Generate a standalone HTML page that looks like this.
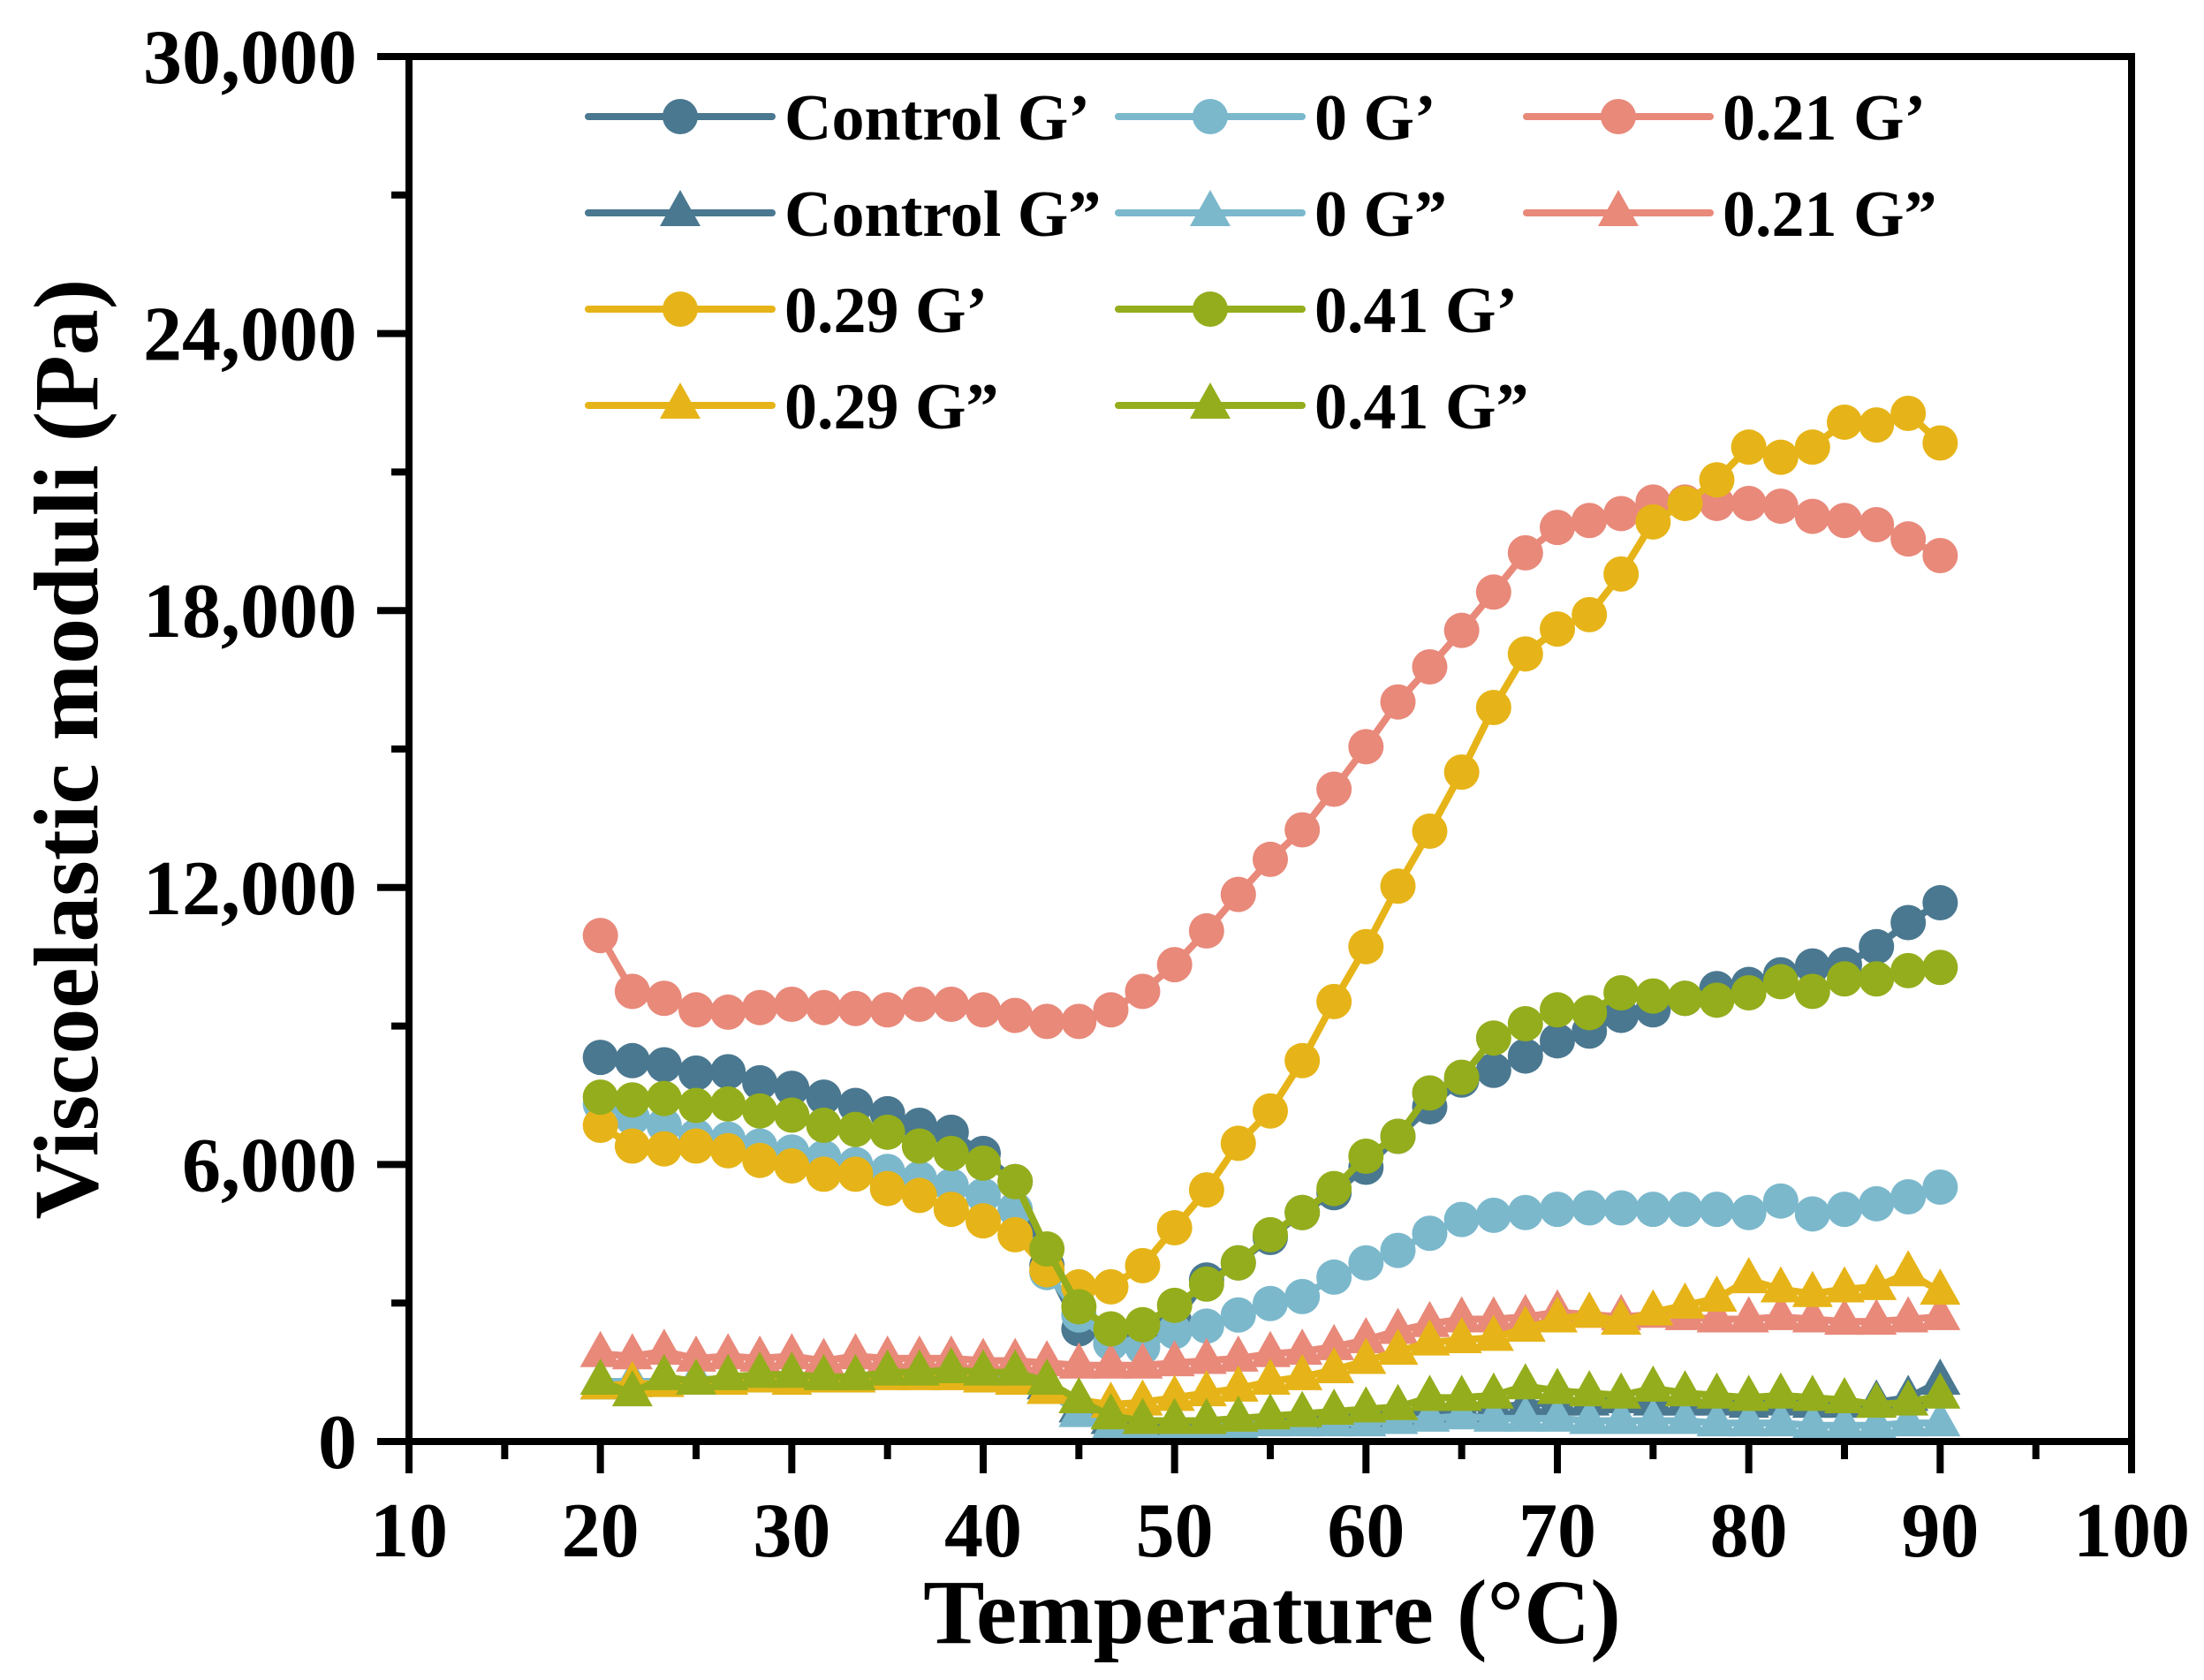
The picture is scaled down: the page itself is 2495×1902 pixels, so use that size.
<!DOCTYPE html>
<html><head><meta charset="utf-8"><style>
html,body{margin:0;padding:0;background:#fff;}
svg{display:block;font-family:"Liberation Serif","Times New Roman",serif;font-weight:bold;}
text{font-family:"Liberation Serif","Times New Roman",serif;font-weight:bold;}
</style></head><body>
<svg id="chart" width="2495" height="1902" viewBox="0 0 2495 1902" xmlns="http://www.w3.org/2000/svg">
<g id="series"></g>
<g id="axes"></g>
<g id="legend"></g>
<text x="1440" y="1860" font-size="104" text-anchor="middle">Temperature (°C)</text>
<text transform="translate(110,848) rotate(-90)" font-size="104" text-anchor="middle">Viscoelastic moduli (Pa)</text>
</svg>
<script>
const temps=[20,21.67,23.33,25,26.67,28.33,30,31.67,33.33,35,36.67,38.33,40,41.67,43.33,45,46.67,48.33,50,51.67,53.33,55,56.67,58.33,60,61.67,63.33,65,66.67,68.33,70,71.67,73.33,75,76.67,78.33,80,81.67,83.33,85,86.67,88.33,90];
const controlG1=[8320,8250,8160,7980,8010,7770,7650,7460,7280,7100,6850,6700,6240,5630,3810,2440,2130,2190,2590,3500,3870,4420,4960,5390,5940,6610,7250,7830,8040,8350,8680,8890,9230,9350,9600,9810,9900,10110,10300,10330,10720,11240,11670];
const controlG2=[1200,1250,1300,1300,1350,1350,1350,1400,1400,1450,1450,1450,1450,1400,1200,700,450,400,400,400,450,450,500,500,550,600,650,700,750,800,850,850,900,850,850,850,800,850,800,800,850,950,1300];
const zeroG1=[7310,7010,6850,6610,6550,6400,6270,6150,6000,5850,5700,5540,5330,5030,3660,2740,2130,2040,2380,2500,2740,2990,3140,3560,3870,4140,4510,4810,4900,4960,5030,5060,5060,5030,5030,5030,4960,5210,4930,5030,5150,5300,5510];
const zeroG2=[1300,1300,1300,1350,1350,1350,1400,1400,1400,1450,1500,1550,1550,1450,1100,600,300,250,250,300,350,400,400,400,400,450,500,550,500,500,500,450,450,450,450,400,400,400,350,350,350,400,400];
const p21G1=[10960,9750,9600,9350,9300,9400,9470,9400,9380,9350,9470,9470,9350,9230,9100,9100,9350,9750,10330,11060,11850,12610,13250,14130,15050,16020,16780,17570,18400,19250,19800,19950,20100,20350,20350,20320,20320,20260,20040,19950,19860,19550,19190];
const p21G2=[1900,1850,1950,1800,1850,1800,1850,1750,1850,1800,1800,1800,1750,1750,1700,1650,1650,1650,1700,1750,1800,1900,1950,2050,2200,2400,2550,2650,2650,2700,2800,2750,2700,2750,2700,2650,2650,2700,2650,2600,2600,2650,2700];
const p29G1=[6850,6400,6340,6400,6300,6090,5970,5790,5790,5480,5330,5030,4780,4480,3720,3350,3350,3810,4630,5450,6460,7160,8250,9530,10720,12030,13220,14500,15900,17060,17600,17910,18790,19920,20320,20830,21540,21320,21540,22080,22020,22270,21630];
const p29G2=[1200,1250,1250,1300,1300,1350,1300,1350,1350,1400,1400,1400,1350,1300,1100,900,800,850,950,1050,1150,1300,1400,1550,1750,1950,2150,2200,2250,2450,2650,2750,2600,2800,2950,3100,3500,3300,3200,3300,3350,3650,3250];
const p41G1=[7460,7400,7430,7280,7310,7160,7070,6850,6760,6700,6400,6240,6030,5630,4170,2920,2440,2530,2950,3410,3870,4480,4960,5480,6180,6610,7550,7890,8740,9050,9350,9290,9720,9650,9600,9560,9720,9960,9750,10020,10020,10200,10270];
const p41G2=[1300,1050,1400,1300,1400,1450,1450,1400,1400,1500,1500,1550,1500,1500,1300,900,550,450,450,450,500,550,600,650,700,750,950,950,1000,1200,1100,1050,1000,1150,1050,1000,950,1000,950,900,800,850,1000];
const xTicks=[10,20,30,40,50,60,70,80,90,100];
const yTicks=[0,6000,12000,18000,24000,30000];
const yTickLabels=["0","6,000","12,000","18,000","24,000","30,000"];
const legendLabels=["Control G’","0 G’","0.21 G’","Control G”","0 G”","0.21 G”","0.29 G’","0.41 G’","","0.29 G”","0.41 G”",""];

const NS="http://www.w3.org/2000/svg";
const L=463,R=2413,T=64,B=1632;
const xs=v=>L+(v-10)/90*(R-L);
const ys=v=>B-v/30000*(B-T);
function mk(tag,attrs,parent){const e=document.createElementNS(NS,tag);for(const k in attrs)e.setAttribute(k,attrs[k]);parent.appendChild(e);return e;}
const C={ctrl:"#4a7890",zero:"#7bb8cc",p21:"#e8897a",p29:"#e6b418",p41:"#94ad1c"};
const series=[
 {name:"control-g-prime",vals:controlG1,c:C.ctrl,m:"c"},
 {name:"control-g-double-prime",vals:controlG2,c:C.ctrl,m:"t"},
 {name:"zero-g-prime",vals:zeroG1,c:C.zero,m:"c"},
 {name:"zero-g-double-prime",vals:zeroG2,c:C.zero,m:"t"},
 {name:"p21-g-prime",vals:p21G1,c:C.p21,m:"c"},
 {name:"p21-g-double-prime",vals:p21G2,c:C.p21,m:"t"},
 {name:"p29-g-prime",vals:p29G1,c:C.p29,m:"c"},
 {name:"p29-g-double-prime",vals:p29G2,c:C.p29,m:"t"},
 {name:"p41-g-prime",vals:p41G1,c:C.p41,m:"c"},
 {name:"p41-g-double-prime",vals:p41G2,c:C.p41,m:"t"}
];
function marker(m,x,y,c,parent){
 if(m==="c"){return mk("circle",{cx:x,cy:y,r:20,fill:c},parent);}
 return mk("polygon",{points:`${x},${y-26} ${x-23},${y+15} ${x+23},${y+15}`,fill:c},parent);
}
const sg=document.getElementById("series");
series.forEach(s=>{
 const g=mk("g",{},sg);
 
 
 const pts=s.vals.map((v,i)=>xs(temps[i])+","+ys(v)).join(" ");
 const pl=mk("polyline",{points:pts,fill:"none",stroke:s.c,"stroke-width":8,"stroke-linejoin":"round"},g);
 
 
 s.vals.forEach((v,i)=>{
  const e=marker(s.m,xs(temps[i]),ys(v),s.c,g);
  
  
 });
});
const ag=document.getElementById("axes");
mk("rect",{x:L,y:T,width:R-L,height:B-T,fill:"none",stroke:"#000","stroke-width":8},ag);
xTicks.forEach(v=>{
 const x=xs(v);
 mk("line",{x1:x,y1:B,x2:x,y2:B+36,stroke:"#000","stroke-width":8},ag);
 const t=mk("text",{x:x,y:1762,"font-size":88,"text-anchor":"middle"},ag);
 t.textContent=v;
 
 
});
for(let v=15;v<100;v+=10){const x=xs(v);mk("line",{x1:x,y1:B,x2:x,y2:B+20,stroke:"#000","stroke-width":8},ag);}
yTicks.forEach((v,i)=>{
 const y=ys(v);
 mk("line",{x1:L-36,y1:y,x2:L,y2:y,stroke:"#000","stroke-width":8},ag);
 const t=mk("text",{x:404,y:y+30,"font-size":88,"text-anchor":"end"},ag);
 t.textContent=yTickLabels[i];
 
 
});
for(let v=3000;v<30000;v+=6000){const y=ys(v);mk("line",{x1:L-20,y1:y,x2:L,y2:y,stroke:"#000","stroke-width":8},ag);}
const lg=document.getElementById("legend");
const colX=[666,1266,1728],rowY=[132,241,350,459];
const legSeries=[series[0],series[2],series[4],series[1],series[3],series[5],series[6],series[8],null,series[7],series[9],null];
legSeries.forEach((s,i)=>{
 if(!s)return;
 const x=colX[i%3],y=rowY[Math.floor(i/3)];
 const g=mk("g",{},lg);
 
 
 mk("line",{x1:x,y1:y,x2:x+208,y2:y,stroke:s.c,"stroke-width":8,"stroke-linecap":"round"},g);
 marker(s.m,x+104,y,s.c,g);
 const t=mk("text",{x:x+222,y:y+26,"font-size":74},g);
 t.textContent=legendLabels[i];
});
</script>
</body></html>
